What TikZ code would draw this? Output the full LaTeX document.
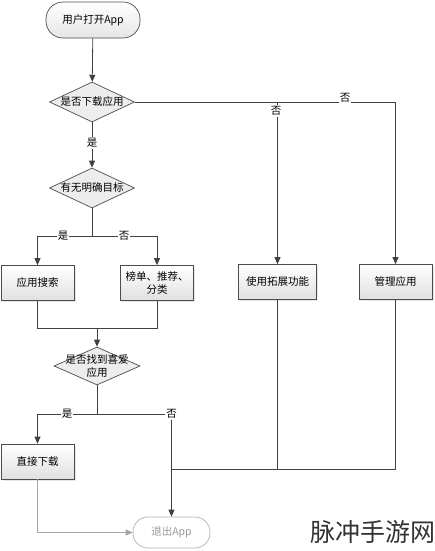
\documentclass[tikz,border=0pt]{standalone}
\usepackage{fontspec}
\setmainfont{Noto Sans CJK SC}
\usetikzlibrary{shapes.geometric,arrows.meta,shadows}
\begin{document}
\begin{tikzpicture}[x=1pt,y=-1pt,
  font=\fontsize{10.5}{12.5}\selectfont,
  line/.style={draw=black!75, line width=0.8pt},
  arr/.style={line, -{Triangle[width=6pt,length=7pt]}},
  garr/.style={draw=black!35, line width=0.8pt, -{Triangle[width=6pt,length=7pt]}},
  box/.style={rectangle, draw=black!70, line width=0.7pt, top color=white, bottom color=black!12,
    minimum width=73pt, minimum height=35pt, align=center, inner sep=1pt,
    drop shadow={opacity=0.2, shadow xshift=1.5pt, shadow yshift=-1.5pt}},
  dia/.style={diamond, draw=black!70, line width=0.7pt, fill=black!7, minimum width=85pt, minimum height=40pt, inner sep=0pt},
  term/.style={rectangle, rounded corners=17pt, draw=black!70, line width=0.7pt, top color=white, bottom color=black!10,
    minimum width=94pt, minimum height=36pt},
  lab/.style={fill=white, inner sep=1pt},
  txt/.style={align=center, inner sep=0pt}
]
\useasboundingbox (0,0) rectangle (435,551);

% nodes
\node[term] (start) at (93,20) {用户打开App};
\node[dia] (d1) at (92,102) {};
\node[txt] (t1) at (d1) {是否下载应用};
\node[dia] (d2) at (92,188) {};
\node[txt] (t2) at (d2) {有无明确目标};
\node[box] (search) at (37.5,283) {应用搜索};
\node[box] (rank) at (157,283) {榜单、推荐、\\分类};
\node[box, minimum width=78pt] (ext) at (277.5,282) {使用拓展功能};
\node[box] (mgmt) at (395.5,282) {管理应用};
\node[dia, minimum width=86pt, minimum height=38pt] (d3) at (97,366) {};
\node[txt] (t3) at (d3) {是否找到喜爱\\应用};
\node[box] (direct) at (37.5,461.5) {直接下载};
\node[rectangle, rounded corners=15pt, draw=black!30, line width=0.7pt, fill=white, text=black!40,
  minimum width=77pt, minimum height=31pt] (exit) at (171.5,532.5) {退出App};

\coordinate (j2) at (92,236);
\coordinate (m) at (97,328);
\coordinate (j3) at (97,414);
\coordinate (j4) at (171.5,414);
\coordinate (m2) at (0,469);

% connectors
\draw[arr] (start) -- (d1);
\draw[arr] (d1.east) -| (mgmt.north);
\draw[arr] (ext.north |- d1.east) -- (ext.north);
\draw[arr] (d1) -- (d2);
\draw[line] (d2.south) -- (j2);
\draw[arr] (j2) -| (search.north);
\draw[arr] (j2) -| (rank.north);
\draw[line] (search.south) |- (rank.south |- m) -- (rank.south);
\draw[arr] (m) -- (d3);
\draw[line] (d3.south) -- (j3);
\draw[arr] (j3) -| (direct.north);
\draw[line] (j3) -- (j4);
\draw[arr] (j4) -- (exit.north);
\draw[line] (mgmt.south) |- (exit.north |- m2);
\draw[line] (ext.south) -- (ext.south |- m2);
\draw[garr] (direct.south) |- (exit.west);

% labels
\node[lab] (l1) at (276,111) {否};
\node[lab] (l2) at (345,98) {否};
\node[lab] (l3) at (92,143) {是};
\node[lab] (l4) at (63,236) {是};
\node[lab] (l5) at (124,236) {否};
\node[lab] (l6) at (67,414) {是};
\node[lab] (l7) at (171.5,414) {否};

% watermark
\node[font=\fontsize{25}{25}\selectfont, text=black!80, inner sep=0pt] (wm) at (372.5,532) {脉冲手游网};
\end{tikzpicture}
\end{document}
